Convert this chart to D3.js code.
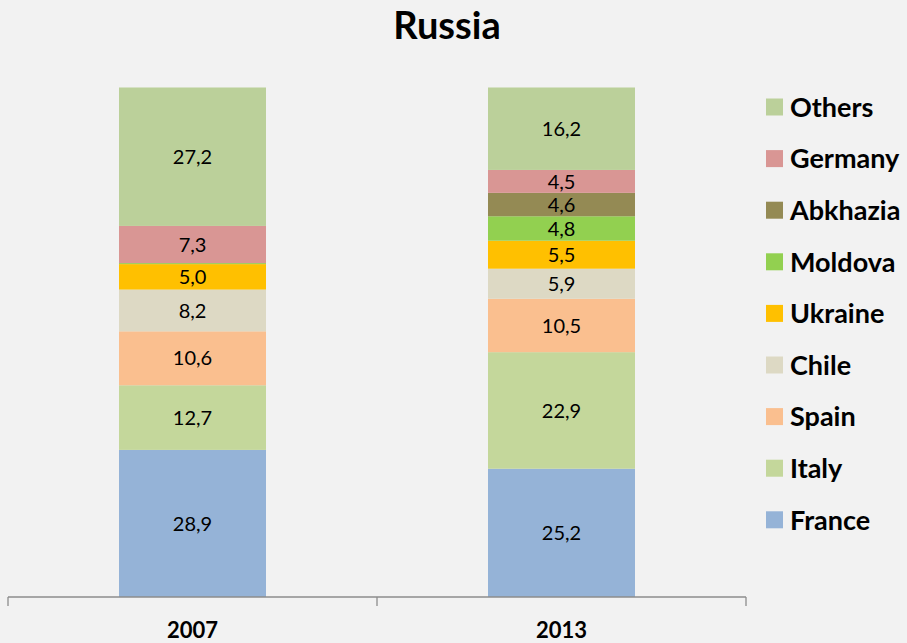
<!DOCTYPE html>
<html><head><meta charset="utf-8">
<script src="https://cdn.jsdelivr.net/npm/d3@7"></script>
<style>body{margin:0;background:#f2f2f2;}svg{display:block;font-family:Lato,"Open Sans",sans-serif;}</style>
</head><body><svg id="c" width="907" height="643"></svg>
<script>
const years = ["2007", "2013"];
const countries = ["France", "Italy", "Spain", "Chile", "Ukraine", "Moldova", "Abkhazia", "Germany", "Others"];
const values2007 = [28.9, 12.7, 10.6, 8.2, 5.0, 0.2, 0, 7.3, 27.2];
const values2013 = [25.2, 22.9, 10.5, 5.9, 5.5, 4.8, 4.6, 4.5, 16.2];
const colors = ["#95b3d7", "#c4d79b", "#fabf8f", "#ddd9c4", "#ffc000", "#92d050", "#948a54", "#d99694", "#bbd09a"];
const title = "Russia";

const svg = d3.select("#c");
svg.append("rect").attr("width",907).attr("height",643).attr("fill","#f2f2f2");

const x = d3.scaleBand().domain(years).range([8, 746]).paddingInner(0).paddingOuter(0);
const y = d3.scaleLinear().domain([0, 100]).range([597, 88]);
const barW = 147;

const rows = years.map((yr, i) => {
  const o = {year: yr};
  const vals = i === 0 ? values2007 : values2013;
  countries.forEach((c, j) => o[c] = vals[j]);
  return o;
});
const stack = d3.stack().keys(countries)(rows);
const color = d3.scaleOrdinal().domain(countries).range(colors);

const g = svg.append("g");
stack.forEach(layer => {
  layer.forEach(d => {
    const cx = x(d.data.year) + x.bandwidth() / 2;
    const v = d[1] - d[0];
    if (v <= 0) return;
    g.append("rect")
      .attr("x", cx - barW / 2).attr("width", barW)
      .attr("y", y(d[1])).attr("height", y(d[0]) - y(d[1]))
      .attr("fill", color(layer.key));
    if (v >= 1) {
      g.append("text")
        .attr("x", cx).attr("y", (y(d[0]) + y(d[1])) / 2)
        .attr("dy", "0.36em").attr("text-anchor", "middle")
        .attr("font-size", 20).attr("fill", "#000")
        .text(d3.format(".1f")(v).replace(".", ","));
    }
  });
});

// axis
const ax = svg.append("g").attr("transform", "translate(0,597)");
ax.append("line").attr("x1", 8).attr("x2", 746).attr("stroke", "#8c8c8c").attr("stroke-width", 1.3);
const tickXs = [x.range()[0]].concat(years.map(yr => x(yr) + x.bandwidth()));
tickXs.forEach(t => ax.append("line").attr("x1", t).attr("x2", t).attr("y1", 0).attr("y2", 9).attr("stroke", "#8c8c8c").attr("stroke-width", 1.3));
years.forEach(yr => ax.append("text")
  .attr("x", x(yr) + x.bandwidth() / 2).attr("y", 41)
  .attr("text-anchor", "middle").attr("font-size", 22).attr("font-weight", "bold")
  .text(yr));

// title
svg.append("text").attr("x", 447).attr("y", 39).attr("text-anchor", "middle")
  .attr("font-size", 38).attr("font-weight", "bold").text(title);

// legend (reverse order)
const legendItems = countries.slice().reverse();
const leg = svg.append("g");
legendItems.forEach((c, i) => {
  const cy = 107 + i * 51.6;
  leg.append("rect").attr("x", 766).attr("y", cy - 8.5).attr("width", 17).attr("height", 17).attr("fill", color(c));
  leg.append("text").attr("x", 790).attr("y", cy).attr("dy", "0.36em")
    .attr("font-size", 27).attr("font-weight", "bold").text(c);
});
</script></body></html>
